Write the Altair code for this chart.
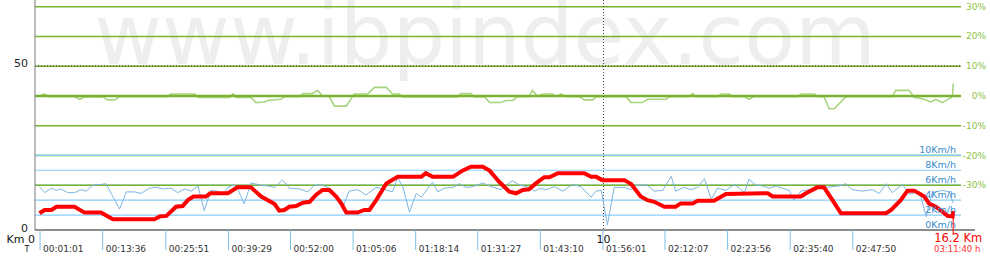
import altair as alt
import pandas as pd

FONT = "DejaVu Sans"

# ---------------- data ----------------
# Elevation profile: distance (km) and altitude (m)
elev_km = [0.00, 0.09, 0.21, 0.30, 0.62, 0.80, 1.09, 1.30, 2.04, 2.13,
           2.25, 2.33, 2.42, 2.54, 2.63, 2.73, 2.95, 3.03, 3.34, 3.51,
           3.75, 3.93, 4.05, 4.17, 4.25, 4.34, 4.43, 4.55, 4.67, 4.79,
           4.90, 5.02, 5.14, 5.26, 5.35, 5.44, 5.64, 5.76, 5.85, 5.97,
           6.15, 6.35, 6.77, 6.85, 6.97, 7.33, 7.50, 7.65, 7.86, 7.98,
           8.15, 8.33, 8.45, 8.57, 8.68, 8.80, 8.95, 9.04, 9.19, 9.66,
           9.78, 9.87, 9.98, 10.37, 10.49, 10.66, 10.78, 10.90, 11.08, 11.28,
           11.37, 11.58, 11.67, 11.96, 12.17, 12.91, 13.00, 13.50, 13.59, 13.79,
           13.91, 14.06, 14.21, 15.01, 15.10, 15.27, 15.39, 15.51, 15.69, 15.77,
           15.89, 16.01, 16.10, 16.19, 16.20]
elev_m = [5.1, 6.1, 6.1, 7.1, 7.1, 5.3, 5.3, 3.3, 3.3, 4.1,
          4.3, 5.6, 7.1, 7.3, 9.1, 10.2, 10.2, 11.2, 11.2, 13.0,
          13.0, 10.2, 9.1, 7.9, 5.9, 6.1, 7.1, 7.3, 8.3, 8.6,
          10.7, 12.2, 12.2, 10.2, 8.1, 5.3, 5.3, 6.1, 6.1, 9.1,
          14.2, 16.2, 16.2, 17.3, 16.2, 16.2, 18.1, 19.3, 19.3, 18.1,
          14.7, 11.7, 11.2, 12.2, 12.4, 14.2, 16.1, 16.1, 17.3, 17.3,
          16.2, 16.2, 15.2, 15.2, 14.0, 10.2, 9.1, 8.6, 7.1, 7.1,
          8.1, 8.1, 8.9, 8.9, 11.0, 11.2, 10.2, 10.2, 11.2, 13.0,
          13.0, 9.1, 5.1, 5.1, 6.1, 9.1, 12.0, 12.0, 10.2, 8.1,
          7.1, 5.6, 4.3, 4.1, 5.8]

# Speed: distance (km) and km/h
speed_km = [0.00, 0.09, 0.21, 0.30, 0.38, 0.50, 0.62, 0.74, 0.83, 0.94,
            1.09, 1.18, 1.42, 1.54, 1.68, 1.80, 1.95, 2.07, 2.19, 2.33,
            2.45, 2.57, 2.69, 2.81, 2.92, 3.04, 3.16, 3.25, 3.34, 3.43,
            3.49, 3.63, 3.75, 3.93, 4.05, 4.17, 4.31, 4.43, 4.61, 4.76,
            4.87, 5.02, 5.14, 5.26, 5.38, 5.49, 5.64, 5.79, 5.97, 6.08,
            6.26, 6.35, 6.44, 6.56, 6.68, 6.77, 6.97, 7.06, 7.18, 7.33,
            7.44, 7.56, 7.68, 7.86, 7.98, 8.18, 8.33, 8.39, 8.51, 8.65,
            8.77, 8.89, 8.98, 9.13, 9.28, 9.45, 9.60, 9.78, 9.87, 9.96,
            10.07, 10.19, 10.37, 10.49, 10.58, 10.78, 10.90, 11.05, 11.20, 11.28,
            11.43, 11.55, 11.67, 11.79, 11.91, 12.02, 12.17, 12.32, 12.41, 12.50,
            12.58, 12.70, 12.82, 12.94, 13.06, 13.17, 13.29, 13.38, 13.50, 13.65,
            13.77, 13.94, 14.18, 14.30, 14.41, 14.59, 14.77, 14.89, 15.01, 15.12,
            15.30, 15.42, 15.54, 15.63, 15.72, 15.83, 16.01, 16.13, 16.20]
speed_kmh = [5.8, 5.0, 5.6, 5.3, 5.5, 5.0, 5.0, 5.4, 5.2, 6.0,
             6.1, 6.2, 2.8, 5.1, 5.1, 4.9, 5.6, 5.7, 5.5, 5.6,
             5.0, 5.5, 5.2, 5.9, 2.6, 5.3, 5.2, 4.7, 5.7, 6.0,
             5.9, 3.5, 6.3, 6.0, 5.9, 5.7, 6.7, 5.6, 5.5, 5.1,
             6.0, 6.0, 5.6, 4.4, 3.1, 5.2, 5.4, 4.7, 5.7, 5.5,
             5.1, 7.0, 5.8, 2.4, 4.9, 4.4, 6.4, 5.1, 5.6, 5.7,
             6.2, 5.7, 5.8, 6.3, 5.9, 5.4, 6.3, 6.6, 6.0, 5.8,
             5.2, 5.6, 5.4, 5.8, 5.2, 6.1, 5.8, 4.4, 5.2, 5.3,
             0.7, 5.7, 5.7, 5.4, 6.0, 6.0, 5.2, 5.3, 7.2, 5.2,
             5.7, 5.4, 5.7, 6.9, 4.1, 5.6, 5.3, 6.1, 5.6, 5.0,
             6.8, 6.0, 5.9, 5.6, 5.9, 5.6, 5.3, 4.0, 5.2, 5.4,
             5.7, 5.7, 5.9, 6.2, 5.4, 5.2, 5.4, 4.9, 6.2, 5.0,
             6.1, 4.8, 5.0, 4.4, 1.8, 5.0, 5.3, 5.1, 3.6]

# Slope: distance (km) and percent
slope_km = [0.00, 0.09, 0.15, 0.62, 0.71, 0.80, 1.12, 1.21, 1.33, 1.42,
            2.27, 2.33, 2.75, 2.81, 3.37, 3.43, 3.49, 3.75, 3.84, 3.99,
            4.05, 4.28, 4.34, 4.61, 4.67, 4.84, 4.93, 5.02, 5.14, 5.23,
            5.44, 5.58, 5.82, 5.94, 6.15, 6.26, 6.38, 6.44, 7.41, 7.47,
            7.65, 7.71, 7.89, 7.98, 8.18,
            8.27, 8.39, 8.48, 8.68, 8.74, 8.83, 8.92, 9.10, 9.16, 9.25,
            9.34, 9.57, 9.66, 9.81, 9.87, 10.40, 10.49, 10.69, 10.78, 11.11,
            11.17, 11.52, 11.58, 11.64, 12.02, 12.08, 12.23, 12.29, 12.50, 12.58,
            12.67, 13.44, 13.50, 13.74, 13.79, 13.91, 14.00, 14.09, 14.30, 15.12,
            15.18, 15.42, 15.51, 15.66, 15.80, 15.89, 16.01, 16.19, 16.20]
slope_pct = [0.0, 0.7, -0.2, -0.2, -1.1, -0.3, -0.3, -1.3, -1.3, -0.2,
             -0.2, 0.7, 0.7, -0.5, -0.5, 0.8, -0.5, -0.5, -2.2, -2.0,
             -1.5, -1.1, -0.2, -0.2, 0.8, 0.8, 1.9, 0.0, -0.2, -3.4,
             -3.4, 0.7, 0.7, 2.9, 2.9, 0.7, 0.7, -0.3, -0.3, 0.8,
             0.8, -0.3, -0.3, -2.2, -2.2,
             -1.5, -1.5, -0.2, -0.2, 1.9, -0.1, 0.7, 0.7, -0.2, 0.7,
             -0.2, -0.2, -1.3, -1.3, -0.2, -0.2, -2.2, -2.2, -1.1, -1.1,
             -0.2, -0.2, 0.8, -0.2, -0.2, 0.7, 0.7, -0.2, -0.2, -1.1,
             -0.2, -0.2, 0.7, 0.7, -0.2, -0.2, -4.3, -4.3, -0.2, -0.2,
             1.9, 1.9, -0.5, -0.9, -2.0, -1.1, -2.2, -0.2, 4.2]

# Time ticks along the distance axis
tick_km = [0.01, 1.12, 2.24, 3.35, 4.45, 5.56, 6.67, 7.77, 8.88, 9.99,
           11.09, 12.20, 13.31, 14.42]
tick_time = ["00:01:01", "00:13:36", "00:25:51", "00:39:29", "00:52:00",
             "01:05:06", "01:18:14", "01:31:27", "01:43:10", "01:56:01",
             "02:12:07", "02:23:56", "02:35:40", "02:47:50"]

slope_grid = [30, 20, 10, -10, -20, -30]
slope_labels_v = [30, 20, 10, 0, -10, -20, -30]
slope_labels_t = ["30%", "20%", "10%", "0%", "-10%", "-20%", "-30%"]
speed_grid = [10, 8, 6, 4, 2]
speed_labels_v = [10, 8, 6, 4, 2, 0]
speed_labels_t = ["10Km/h", "8Km/h", "6Km/h", "4Km/h", "2Km/h", "0Km/h"]
elev_labels_v = [0, 50]
elev_labels_t = ["0", "50"]
total_km = 16.2
total_km_text = "16.2 Km"
total_time_text = "03:11:40 h"
watermark = "www.ibpindex.com"

assert len(elev_km) == len(elev_m)
assert len(speed_km) == len(speed_kmh)
assert len(slope_km) == len(slope_pct)

# ---------------- scales ----------------
XD = [-0.0798, 16.587]
ELEV_D = [0, 70.12]
SLOPE_D = [-45.0, 32.25]
SPEED_D = [0, 30.79]

GREEN = "#7ab32e"
GREEN_T = "#8bbf44"
BLUE = "#87cefa"
BLUE_T = "#3a8ccb"


def X(f="km"):
    return alt.X(f"{f}:Q", scale=alt.Scale(domain=XD, nice=False, zero=False), axis=None)


def Y(f, dom):
    return alt.Y(f"{f}:Q", scale=alt.Scale(domain=dom, nice=False, zero=False), axis=None)


one = pd.DataFrame({"a": [0]})

wm = alt.Chart(pd.DataFrame({"t": [watermark]})).mark_text(
    font=FONT, fontSize=83, color="#eeeeee", align="center", baseline="alphabetic"
).encode(x=alt.value(450), y=alt.value(64), text="t:N")

blue_grid = alt.Chart(pd.DataFrame({"s": speed_grid})).mark_rule(
    color=BLUE, strokeWidth=1.2
).encode(y=Y("s", SPEED_D), x=alt.value(0), x2=alt.value(926))

green_grid = alt.Chart(pd.DataFrame({"p": slope_grid})).mark_rule(
    color=GREEN, strokeWidth=1.5
).encode(y=Y("p", SLOPE_D), x=alt.value(0), x2=alt.value(926))

blue_top = alt.Chart(pd.DataFrame({"s": [10]})).mark_rule(
    color=BLUE, strokeWidth=1.2
).encode(y=Y("s", SPEED_D), x=alt.value(0), x2=alt.value(926))

slope_line = alt.Chart(pd.DataFrame({"km": slope_km, "pct": slope_pct})).mark_line(
    color="#a9d37e", strokeWidth=1.6
).encode(x=X(), y=Y("pct", SLOPE_D))

zero_line = alt.Chart(pd.DataFrame({"p": [0]})).mark_rule(
    color=GREEN, strokeWidth=2.5
).encode(y=Y("p", SLOPE_D), x=alt.value(0), x2=alt.value(926))

elev50 = alt.Chart(pd.DataFrame({"m": [50]})).mark_rule(
    color="#222222", strokeWidth=1, strokeDash=[1, 2]
).encode(y=Y("m", ELEV_D), x=alt.value(0), x2=alt.value(926))

km10 = alt.Chart(pd.DataFrame({"km": [10]})).mark_rule(
    color="#444444", strokeWidth=1, strokeDash=[1, 2]
).encode(x=X(), y=alt.value(0), y2=alt.value(230))

left_axis = alt.Chart(one).mark_rule(color="#7a7a7a", strokeWidth=1).encode(
    x=alt.value(0), y=alt.value(0), y2=alt.value(230))
bottom_axis = alt.Chart(one).mark_rule(color="#666666", strokeWidth=1.5).encode(
    x=alt.value(0), x2=alt.value(940), y=alt.value(230))

speed_line = alt.Chart(pd.DataFrame({"km": speed_km, "v": speed_kmh})).mark_line(
    color="#7eb6e0", strokeWidth=1
).encode(x=X(), y=Y("v", SPEED_D))

elev_line = alt.Chart(pd.DataFrame({"km": elev_km, "m": elev_m})).mark_line(
    color="#ff0000", strokeWidth=4
).encode(x=X(), y=Y("m", ELEV_D))

elev_lab = alt.Chart(pd.DataFrame({"m": elev_labels_v, "t": elev_labels_t})).mark_text(
    font=FONT, fontSize=11, color="#222222", align="right", baseline="middle", dx=-7, dy=-1.5
).encode(x=alt.value(0), y=Y("m", ELEV_D), text="t:N")

slope_lab = alt.Chart(pd.DataFrame({"p": slope_labels_v, "t": slope_labels_t})).mark_text(
    font=FONT, fontSize=9, color=GREEN_T, align="right", baseline="middle"
).encode(x=alt.value(951), y=Y("p", SLOPE_D), text="t:N")

speed_lab = alt.Chart(pd.DataFrame({"s": speed_labels_v, "t": speed_labels_t})).mark_text(
    font=FONT, fontSize=9.5, color=BLUE_T, align="right", baseline="alphabetic", dy=-2
).encode(x=alt.value(921), y=Y("s", SPEED_D), text="t:N")

ticks_df = pd.DataFrame({"km": tick_km, "t": tick_time})
tick_rules = alt.Chart(ticks_df).mark_rule(color="#7fbfe8", strokeWidth=1).encode(
    x=X(), y=alt.value(230), y2=alt.value(250))
tick_text = alt.Chart(ticks_df).mark_text(
    font=FONT, fontSize=9, color="#333333", align="left", baseline="alphabetic", dx=3
).encode(x=X(), y=alt.value(252), text="t:N")

ten_lab = alt.Chart(pd.DataFrame({"km": [10], "t": ["10"]})).mark_text(
    font=FONT, fontSize=11, color="#111111", align="center", baseline="alphabetic"
).encode(x=X(), y=alt.value(243), text="t:N")

end_df = pd.DataFrame({"km": [total_km], "a": [total_km_text], "b": [total_time_text]})
end_rule = alt.Chart(end_df).mark_rule(color="#ff0000", strokeWidth=1).encode(
    x=X(), y=alt.value(216), y2=alt.value(235))
end_km = alt.Chart(end_df).mark_text(
    font=FONT, fontSize=11.5, color="#ff0000", align="center", baseline="alphabetic", dx=5
).encode(x=X(), y=alt.value(242), text="a:N")
end_time = alt.Chart(end_df).mark_text(
    font=FONT, fontSize=8.5, color="#ff3030", align="center", baseline="alphabetic", dx=4
).encode(x=X(), y=alt.value(252), text="b:N")

km0 = alt.Chart(pd.DataFrame({"t": ["Km  0"]})).mark_text(
    font=FONT, fontSize=11, color="#111111", align="right", baseline="alphabetic"
).encode(x=alt.value(0), y=alt.value(243), text="t:N")
t_lab = alt.Chart(pd.DataFrame({"t": ["T"]})).mark_text(
    font=FONT, fontSize=8, color="#111111", align="center", baseline="alphabetic"
).encode(x=alt.value(-8), y=alt.value(252), text="t:N")

chart = alt.layer(
    wm, blue_grid, green_grid, blue_top, slope_line, zero_line, elev50, km10,
    left_axis, bottom_axis, speed_line, elev_line,
    elev_lab, slope_lab, speed_lab, tick_rules, tick_text, ten_lab,
    end_rule, end_km, end_time, km0, t_lab
).resolve_scale(y="independent").properties(
    width=940, height=230,
    padding={"left": 35, "top": 0, "right": 15, "bottom": 40},
    autosize=alt.AutoSizeParams(type="none"),
    background="white",
).configure_view(strokeWidth=0)

chart.save("out.html", embed_options={"renderer": "svg", "actions": False})
